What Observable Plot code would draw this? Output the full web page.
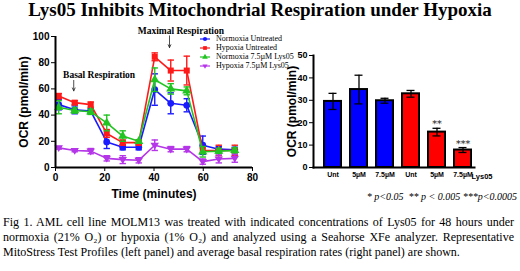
<!DOCTYPE html>
<html>
<head>
<meta charset="utf-8">
<script src="https://cdn.jsdelivr.net/npm/d3@7"></script>
<script src="https://cdn.jsdelivr.net/npm/@observablehq/plot@0.6"></script>
<style>
  html, body { margin: 0; padding: 0; background: #fff; }
  #root { position: relative; width: 520px; height: 271px; overflow: hidden; background: #fff; }
  #title { position: absolute; left: 0; top: 0; width: 520px; text-align: center;
    font-family: "Liberation Serif", "Times New Roman", serif; font-weight: bold; font-size: 19px; line-height: 20px; color: #000; }
  #left { position: absolute; left: 0; top: 25px; }
  #right { position: absolute; left: 270px; top: 25px; z-index: 1; }
  #legend { position: absolute; left: 199px; top: 34px; z-index: 5; font-family: "Liberation Serif", serif; font-size: 8px; color: #000; }
  #legend .row { height: 9px; line-height: 9px; display: flex; align-items: center; white-space: nowrap; }
  #legend svg { margin-right: 5px; }
  #pval { position: absolute; right: 3px; top: 191px; z-index: 5; font-family: "Liberation Serif", serif; font-style: italic; font-size: 10px; color: #000; white-space: nowrap; }
  #caption { position: absolute; left: 3px; top: 215px; width: 511px; text-align: justify; text-align-last: left;
    font-family: "Liberation Serif", "Times New Roman", serif; font-size: 12px; line-height: 15px; color: #000; }
</style>
</head>
<body>
<div id="root">
  <div id="title">Lys05 Inhibits Mitochondrial Respiration under Hypoxia</div>
  <div id="left"></div>
  <div id="right"></div>
  <div id="legend"></div>
  <div id="pval">* p&lt;0.05 &nbsp;** p &lt; 0.005 ***p&lt;0.0005</div>
  <div id="caption">Fig 1. AML cell line MOLM13 was treated with indicated concentrations of Lys05 for 48 hours under normoxia (21% O₂) or hypoxia (1% O₂) and analyzed using a Seahorse XFe analyzer. Representative MitoStress Test Profiles (left panel) and average basal respiration rates (right panel) are shown.</div>
</div>
<script>
// ---------- data: left panel (MitoStress profile) ----------
const times = [1.3, 7.8, 14.3, 20.8, 27.3, 33.8, 40.3, 46.8, 53.3, 59.8, 66.3, 72.8];
const seriesNames = ["Normoxia Untreated", "Hypoxia Untreated", "Normoxia 7.5\u00b5M Lys05", "Hypoxia 7.5\u00b5M Lys05"];
const seriesColors = ["#1a1aff", "#ff1a1a", "#22c422", "#b535e8"];
const seriesSymbols = ["circle", "square", "triangle", "tridown"];
const normUnt   = [48, 44, 43, 19.5, 15.5, 15.5, 59.5, 49, 47.5, 17, 14, 13.5];
const normUntE  = [4, 3, 2, 5, 2, 2, 12, 8, 5, 7, 2, 2];
const hypUnt    = [54.5, 49.5, 48, 26, 19, 19, 84.5, 74, 74, 13, 13, 13];
const hypUntE   = [2, 1.5, 2, 3, 2, 2, 3, 8, 11, 2, 4, 4];
const norm75    = [46, 43.5, 42.5, 34, 24, 20, 67, 60, 58.5, 12, 12.5, 13];
const norm75E   = [5, 2, 2, 6, 4, 1, 9, 4, 3, 4, 2, 2];
const hyp75     = [15, 13, 12.5, 7, 6, 5.5, 17, 14, 14, 4.5, 6.5, 7];
const hyp75E    = [1, 1, 2, 2, 3, 2, 4, 2, 2, 2, 3, 3];
const seriesValues = [normUnt, hypUnt, norm75, hyp75];
const seriesErrors = [normUntE, hypUntE, norm75E, hyp75E];
const leftYTicks = [0, 20, 40, 60, 80, 100];
const leftXTicks = [0, 20, 40, 60, 80];
const annotations = [
  {label: "Basal Respiration", tx: 17.7, ty: 71, ax: 7.4, ay1: 66.5, ay2: 58.5},
  {label: "Maximal Respiration", tx: 50.9, ty: 104, ax: 46.3, ay1: 100.5, ay2: 91.5}
];

// ---------- data: right panel (basal respiration bars) ----------
const barKeys   = ["N-Unt", "N-5", "N-7.5", "H-Unt", "H-5", "H-7.5"];
const barLabels = ["Unt", "5\u00b5M", "7.5\u00b5M", "Unt", "5\u00b5M", "7.5\u00b5M"];
const barValues = [29.5, 34.8, 29.8, 32.9, 15.8, 7.8];
const barErrors = [3.6, 6.4, 1.1, 1.5, 1.7, 1.1];
const barColors = ["#0000ff", "#0000ff", "#0000ff", "#ff0000", "#ff0000", "#ff0000"];
const barStars  = ["", "", "", "", "**", "***"];
const rightYTicks = [0, 10, 20, 30, 40, 50];

// ---------- custom symbols ----------
const capSymbol = { draw(ctx, size) { const r = Math.sqrt(size / Math.PI); ctx.moveTo(-r, 0); ctx.lineTo(r, 0); } };
const triDown = { draw(ctx, size) {
  const r = Math.sqrt(size / Math.PI) * 1.25;
  ctx.moveTo(-r, -r * 0.6); ctx.lineTo(r, -r * 0.6); ctx.lineTo(0, r * 1.0); ctx.closePath(); } };
const symFor = s => s === "tridown" ? triDown : s;

// ---------- build left table ----------
const rows = [];
seriesNames.forEach((name, i) => {
  times.forEach((t, j) => rows.push({series: name, t, v: seriesValues[i][j], e: seriesErrors[i][j]}));
});

const fontSans = "'Liberation Sans', Arial, sans-serif";
const fontSerif = "'Liberation Serif', 'Times New Roman', serif";

const marks = [];
seriesNames.forEach((name, i) => {
  const data = rows.filter(d => d.series === name);
  marks.push(Plot.line(data, {x: "t", y: "v", stroke: seriesColors[i], strokeWidth: 1.6}));
  marks.push(Plot.ruleX(data, {x: "t", y1: d => d.v - d.e, y2: d => d.v + d.e, stroke: seriesColors[i], strokeWidth: 1.4}));
  marks.push(Plot.dot(data, {x: "t", y: d => d.v + d.e, symbol: capSymbol, r: 3.2, stroke: seriesColors[i], strokeWidth: 1.4, fill: "none"}));
  marks.push(Plot.dot(data, {x: "t", y: d => d.v - d.e, symbol: capSymbol, r: 3.2, stroke: seriesColors[i], strokeWidth: 1.4, fill: "none"}));
  marks.push(Plot.dot(data, {x: "t", y: "v", symbol: symFor(seriesSymbols[i]), r: 3.4, fill: seriesColors[i], stroke: "none"}));
});

const left = Plot.plot({
  width: 300, height: 180,
  marginLeft: 55, marginRight: 48, marginTop: 11, marginBottom: 38,
  style: {fontFamily: fontSans, fontSize: "10px", fontWeight: "bold", color: "#000", background: "#fff"},
  x: {domain: [0, 80], labelArrow: "none"},
  y: {domain: [0, 100], labelArrow: "none"},
  marks: [
    Plot.axisX({ticks: leftXTicks, tickSize: 4, tickPadding: 2, fontSize: 10, label: "Time (minutes)", labelAnchor: "center", labelOffset: 30, labelArrow: "none"}),
    Plot.axisY({ticks: leftYTicks, tickSize: 4, tickPadding: 2, fontSize: 10, label: "OCR (pmol/min)", labelAnchor: "center", labelOffset: 36, labelArrow: "none"}),
    ...marks,
    Plot.ruleX([0], {strokeWidth: 2}),
    Plot.ruleY([0], {strokeWidth: 2}),
    Plot.text(annotations, {x: "tx", y: "ty", text: "label", fill: "#000", fontFamily: fontSerif, fontSize: 9.5, fontWeight: "bold", clip: false}),
    Plot.arrow(annotations, {x1: "ax", x2: "ax", y1: "ay1", y2: "ay2", stroke: "#222", strokeWidth: 0.8, headLength: 6, headAngle: 50})
  ]
});
left.querySelectorAll('[aria-label="x-axis label"] text, [aria-label="y-axis label"] text, [aria-label="x-axis label"], [aria-label="y-axis label"]').forEach(t => { t.setAttribute("font-size", "12"); t.style.fontSize = "12px"; });
document.getElementById("left").appendChild(left);

// ---------- legend ----------
const legend = document.getElementById("legend");
seriesNames.forEach((name, i) => {
  const row = document.createElement("div");
  row.className = "row";
  const sym = d3.symbol(seriesSymbols[i] === "circle" ? d3.symbolCircle : seriesSymbols[i] === "square" ? d3.symbolSquare :
    seriesSymbols[i] === "triangle" ? d3.symbolTriangle : triDown, 14)();
  row.innerHTML = `<svg width="12" height="8"><line x1="1" x2="11" y1="4" y2="4" stroke="${seriesColors[i]}" stroke-width="1.2"/>` +
    `<path transform="translate(6,4)" d="${sym}" fill="${seriesColors[i]}"/></svg><span>${name}</span>`;
  legend.appendChild(row);
});

// ---------- right panel ----------
const bars = barKeys.map((k, i) => ({k, v: barValues[i], e: barErrors[i], color: barColors[i], star: barStars[i]}));
const labelOf = Object.fromEntries(barKeys.map((k, i) => [k, barLabels[i]]));
const right = Plot.plot({
  width: 250, height: 180,
  marginLeft: 43, marginRight: 46, marginTop: 30, marginBottom: 38,
  style: {fontFamily: fontSans, fontSize: "9px", fontWeight: "bold", color: "#000", background: "#fff"},
  x: {domain: barKeys, range: [52, 203], paddingInner: 0.335, paddingOuter: 0},
  y: {domain: [0, 50], labelArrow: "none"},
  marks: [
    Plot.axisX({tickSize: 0, tickPadding: 5, fontSize: 7, tickFormat: k => labelOf[k], label: null}),
    Plot.axisY({ticks: rightYTicks, tickSize: 4, tickPadding: 2, fontSize: 9, label: "OCR (pmol/min)", labelAnchor: "center", labelOffset: 26, labelArrow: "none"}),
    Plot.barY(bars, {x: "k", y: "v", fill: "color", stroke: "#000", strokeWidth: 2}),
    Plot.ruleX(bars, {x: "k", y1: d => d.v - d.e, y2: d => d.v + d.e, stroke: "#000", strokeWidth: 1.3}),
    Plot.tickY(bars, {x: "k", y: d => d.v + d.e, stroke: "#000", strokeWidth: 1.3, insetLeft: 4.5, insetRight: 4.5}),
    Plot.tickY(bars, {x: "k", y: d => d.v - d.e, stroke: "#000", strokeWidth: 1.3, insetLeft: 4.5, insetRight: 4.5}),
    Plot.text(bars, {x: "k", y: d => d.v + d.e, text: "star", fill: "#111", lineAnchor: "bottom", dy: -1, fontFamily: "'DejaVu Serif', serif", fontSize: 9.5, fontWeight: "normal"}),
    Plot.frame({anchor: "left", strokeWidth: 2}),
    Plot.frame({anchor: "bottom", strokeWidth: 2}),
    Plot.text(["Lys05"], {frameAnchor: "bottom-right", dx: 18, dy: 9, fill: "#000", fontSize: 7.5, lineAnchor: "middle"})
  ]
});
right.querySelectorAll('[aria-label="y-axis label"] text, [aria-label="y-axis label"]').forEach(t => { t.setAttribute("font-size", "12"); t.style.fontSize = "12px"; });
document.getElementById("right").appendChild(right);
</script>
</body>
</html>
